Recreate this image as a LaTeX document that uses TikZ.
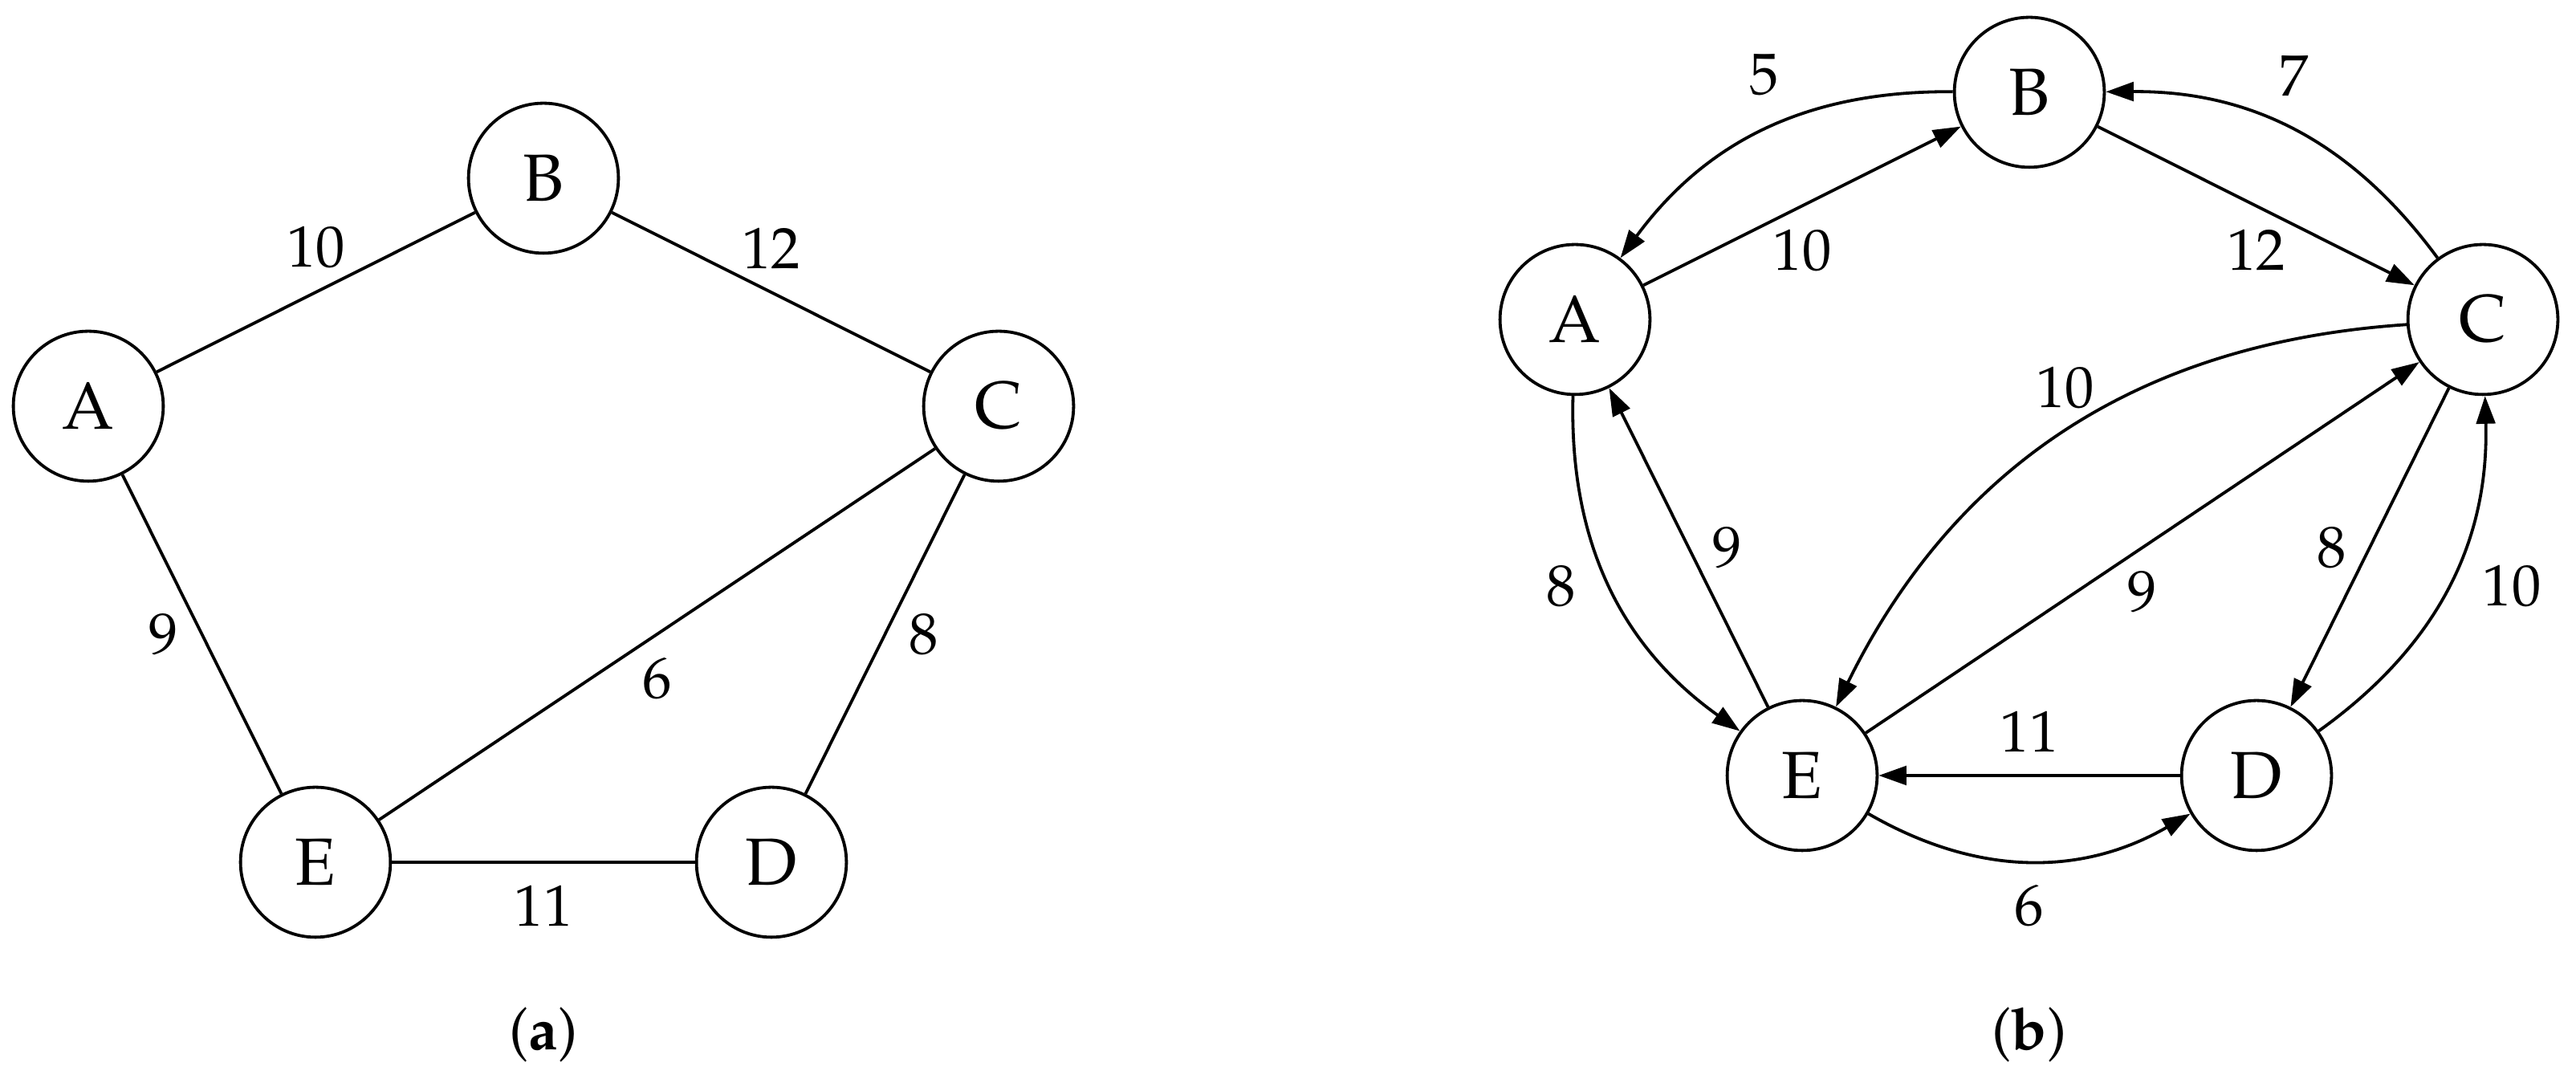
\documentclass[tikz,border=0pt]{standalone}
\usepackage[T1]{fontenc}
\usepackage{mathpazo}
\usetikzlibrary{arrows.meta}
\begin{document}
\begin{tikzpicture}[>={Triangle[length=5pt,width=3.4pt]}, x=0.508cm, y=0.508cm, line width=0.55pt, line join=round,
        vtx/.style={draw, circle, minimum size=27pt, inner sep=0pt, font=\fontsize{12}{14}\selectfont},
        lbl/.style={inner sep=4pt, font=\fontsize{10.5}{12}\selectfont},
        subcap/.style={font=\fontsize{10.5}{12}\selectfont}]
        \useasboundingbox (0,0) rectangle (32.09,13.44);
        % (a)
        \node[vtx] (aA) at (1.10,8.38) {A};
        \node[vtx] (aB) at (6.77,11.22) {B};
        \node[vtx] (aC) at (12.44,8.38) {C};
        \node[vtx] (aD) at (9.61,2.70) {D};
        \node[vtx] (aE) at (3.93,2.70) {E};
        \draw (aA) -- node[lbl, above] {10} (aB);
        \draw (aB) -- node[lbl, above] {12} (aC);
        \draw (aA) -- node[lbl, left] {9} (aE);
        \draw (aC) -- node[lbl, right] {8} (aD);
        \draw (aE) -- node[lbl, below] {6} (aC);
        \draw (aE) -- node[lbl, below] {11} (aD);
        \node[subcap] (capa) at (6.77,0.55) {(\textbf{a})};
        % (b)
        \node[vtx] (bA) at (19.62,9.46) {A};
        \node[vtx] (bB) at (25.28,12.29) {B};
        \node[vtx] (bC) at (30.93,9.46) {C};
        \node[vtx] (bD) at (28.11,3.78) {D};
        \node[vtx] (bE) at (22.45,3.78) {E};
        \draw[->] (bA) -- node[lbl, below] {10} (bB);
        \draw[->] (bB) to[bend right=27] node[lbl, above=2pt] {5} (bA);
        \draw[->] (bB) -- node[lbl, below] {12} (bC);
        \draw[->] (bC) to[bend right=27] node[lbl, above=2pt] {7} (bB);
        \draw[->] (bA) to[bend right=28] node[lbl, left=2pt] {8} (bE);
        \draw[->] (bE) -- node[lbl, right] {9} (bA);
        \draw[->] (bC) to[bend right=30] node[lbl, above] {10} (bE);
        \draw[->] (bE) -- node[lbl, below] {9} (bC);
        \draw[->] (bC) -- node[lbl, left] {8} (bD);
        \draw[->] (bD) to[bend right=28] node[lbl, right=2pt] {10} (bC);
        \draw[->] (bD) -- node[lbl, above] {11} (bE);
        \draw[->] (bE) to[bend right=30] node[lbl, below] {6} (bD);
        \node[subcap] (capb) at (25.28,0.55) {(\textbf{b})};
\end{tikzpicture}
\end{document}
